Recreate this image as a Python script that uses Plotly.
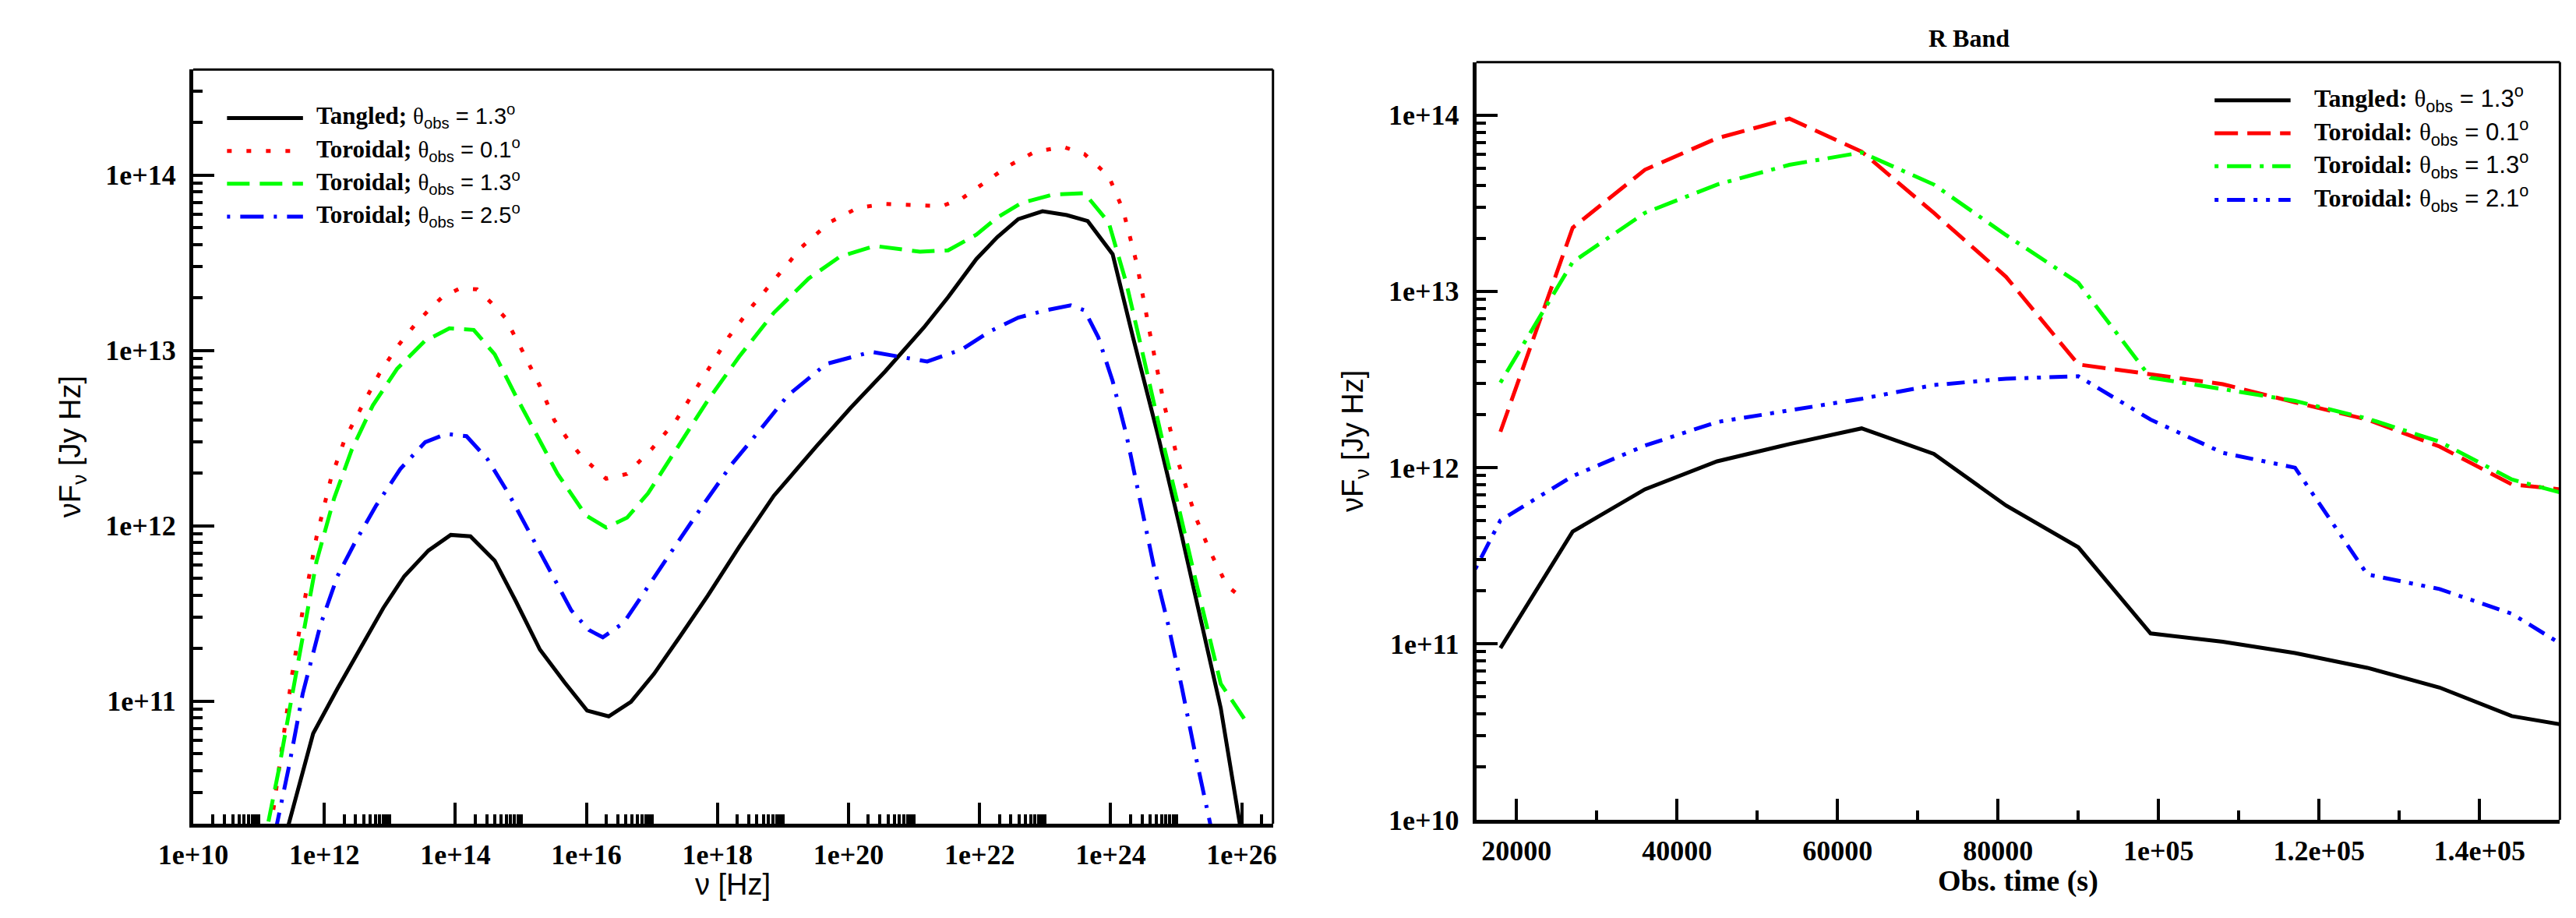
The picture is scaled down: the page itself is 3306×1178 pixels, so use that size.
import numpy as np
import plotly.graph_objects as go

W, H = 3306, 1178

# ---------------- Left panel: SED (log10 values) ----------------
sed_lognu_tangled = [11.40, 11.83, 12.20, 12.58, 12.90, 13.22, 13.59, 13.93, 14.23, 14.60, 14.92, 15.29,
                     15.67, 16.01, 16.34, 16.68, 17.03, 17.42, 17.85, 18.33, 18.86, 19.50, 20.03, 20.56,
                     21.15, 21.52, 21.95, 22.27, 22.59, 22.96, 23.33, 23.65, 24.03, 24.34, 24.72, 25.04,
                     25.36, 25.68, 26.05]
sed_logf_tangled = [10.22, 10.815, 11.071, 11.322, 11.531, 11.712, 11.859, 11.948, 11.940, 11.801, 11.572,
                    11.294, 11.105, 10.946, 10.913, 10.996, 11.155, 11.364, 11.600, 11.879, 12.171, 12.449,
                    12.672, 12.881, 13.131, 13.304, 13.521, 13.646, 13.749, 13.794, 13.772, 13.738, 13.549,
                    13.076, 12.519, 12.018, 11.489, 10.960, 10.12]

sed_lognu_tor01 = [11.10, 11.35, 11.51, 11.67, 11.88, 12.10, 12.31, 12.58, 12.84, 13.11, 13.38, 13.59,
                   13.80, 14.07, 14.33, 14.55, 14.76, 15.03, 15.29, 15.51, 15.72, 15.93, 16.30, 16.62,
                   16.99, 17.37, 17.80, 18.17, 18.54, 18.91, 19.29, 19.71, 20.14, 20.56, 20.99, 21.42,
                   21.74, 22.06, 22.43, 22.85, 23.28, 23.60, 23.97, 24.19, 24.40, 24.61, 24.82, 25.04,
                   25.30, 25.52, 25.78, 26.03]
sed_logf_tor01 = [10.05, 10.74, 11.155, 11.517, 11.934, 12.268, 12.491, 12.686, 12.867, 13.020, 13.145,
                  13.229, 13.304, 13.354, 13.349, 13.271, 13.187, 12.992, 12.797, 12.602, 12.491, 12.394,
                  12.268, 12.296, 12.435, 12.602, 12.853, 13.076, 13.257, 13.424, 13.591, 13.730, 13.813,
                  13.836, 13.827, 13.822, 13.869, 13.953, 14.050, 14.134, 14.161, 14.120, 13.994, 13.800,
                  13.493, 13.076, 12.686, 12.352, 12.046, 11.851, 11.656, 11.581]

sed_lognu_tor13 = [11.05, 11.30, 11.46, 11.67, 11.88, 12.15, 12.42, 12.74, 13.11, 13.53, 13.91, 14.28,
                   14.60, 14.92, 15.24, 15.56, 15.99, 16.30, 16.62, 16.94, 17.37, 17.85, 18.33, 18.86,
                   19.39, 19.87, 20.40, 21.09, 21.52, 21.95, 22.27, 22.64, 23.12, 23.60, 23.97, 24.24,
                   24.50, 24.77, 25.04, 25.30, 25.68, 26.08]
sed_logf_tor13 = [10.13, 10.598, 10.932, 11.377, 11.795, 12.157, 12.435, 12.686, 12.895, 13.053, 13.126,
                  13.117, 12.978, 12.742, 12.519, 12.296, 12.060, 11.990, 12.046, 12.185, 12.435, 12.714,
                  12.964, 13.215, 13.410, 13.535, 13.596, 13.563, 13.571, 13.660, 13.758, 13.841, 13.889,
                  13.897, 13.730, 13.382, 12.964, 12.519, 12.101, 11.684, 11.099, 10.877]

sed_lognu_tor25 = [11.20, 11.46, 11.67, 11.94, 12.20, 12.47, 12.79, 13.16, 13.54, 13.86, 14.17, 14.49,
                   14.81, 15.13, 15.45, 15.77, 16.04, 16.25, 16.57, 16.94, 17.37, 17.80, 18.22, 18.65,
                   19.07, 19.66, 20.35, 20.78, 21.20, 21.73, 22.16, 22.59, 23.01, 23.39, 23.60, 23.81,
                   24.03, 24.24, 24.45, 24.66, 24.88, 25.09, 25.30, 25.60]
sed_logf_tor25 = [10.16, 10.626, 11.042, 11.433, 11.712, 11.906, 12.115, 12.324, 12.477, 12.524, 12.511,
                  12.380, 12.185, 11.962, 11.739, 11.517, 11.405, 11.364, 11.447, 11.656, 11.893, 12.129,
                  12.352, 12.547, 12.742, 12.923, 12.992, 12.964, 12.937, 13.006, 13.109, 13.187, 13.229,
                  13.257, 13.229, 13.076, 12.825, 12.519, 12.129, 11.767, 11.433, 11.071, 10.682, 10.16]

# ---------------- Right panel: R band light curves ----------------
obs_time = [18000, 27000, 36000, 45000, 54000, 63000, 72000, 81000, 90000, 99000, 108000,
            117000, 126000, 135000, 144000, 153000]
obs_time_tor21 = [9000] + obs_time
r_logf_tangled = [10.975, 11.636, 11.876, 12.035, 12.133, 12.222, 12.077, 11.784, 11.547, 11.058,
                  11.011, 10.947, 10.863, 10.751, 10.589, 10.519]
r_logf_tor01 = [12.203, 13.361, 13.690, 13.869, 13.980, 13.793, 13.445, 13.082, 12.585, 12.529,
                12.473, 12.370, 12.272, 12.119, 11.904, 11.862]
r_logf_tor13 = [12.482, 13.166, 13.445, 13.606, 13.718, 13.788, 13.606, 13.319, 13.048, 12.510,
                12.445, 12.378, 12.278, 12.147, 11.932, 11.822]
r_logf_tor21 = [10.905, 11.700, 11.951, 12.124, 12.258, 12.323, 12.390, 12.468, 12.504, 12.518,
                12.272, 12.083, 11.999, 11.393, 11.310, 11.170, 10.918]

# ---------------- Tick labels ----------------
left_xtick_vals = [1e10, 1e12, 1e14, 1e16, 1e18, 1e20, 1e22, 1e24, 1e26]
left_xtick_text = ["1e+10", "1e+12", "1e+14", "1e+16", "1e+18", "1e+20", "1e+22", "1e+24", "1e+26"]
left_ytick_vals = [1e11, 1e12, 1e13, 1e14]
left_ytick_text = ["1e+11", "1e+12", "1e+13", "1e+14"]
right_xtick_vals = [20000, 40000, 60000, 80000, 100000, 120000, 140000]
right_xtick_text = ["20000", "40000", "60000", "80000", "1e+05", "1.2e+05", "1.4e+05"]
right_ytick_vals = [1e10, 1e11, 1e12, 1e13, 1e14]
right_ytick_text = ["1e+10", "1e+11", "1e+12", "1e+13", "1e+14"]

left_labels = ["Tangled;", "Toroidal;", "Toroidal;", "Toroidal;"]
left_angles = ["1.3", "0.1", "1.3", "2.5"]
right_labels = ["Tangled:", "Toroidal:", "Toroidal:", "Toroidal:"]
right_angles = ["1.3", "0.1", "1.3", "2.1"]

# minor tick positions
left_xminor = [k * 10.0 ** d for d in range(10, 27, 2) for k in range(2, 11) if k * 10.0 ** d <= 3.01e26]
log_minor = [k * 10.0 ** d for d in range(10, 15) for k in range(2, 10)]
left_yminor = [v for v in log_minor if 2e10 <= v <= 4.01e14]
right_yminor = [v for v in log_minor if v <= 2.01e14]
right_xminor = list(range(30000, 150001, 20000))

def px(x):
    return x / W

def py(y):
    return 1 - y / H

SERIF = "Liberation Serif"
SANS = "Liberation Sans"
LW = 5

left_styles = [("#000000", "solid"), ("#ff0000", "6px,19px"), ("#00ff00", "29px,13px"),
               ("#0000ff", "4px,13px,30px,13px")]
right_styles = [("#000000", "solid"), ("#ff0000", "30px,12px"), ("#00ff00", "5px,11px,31px,11px"),
                ("#0000ff", "5px,11px,23px,11px,5px,11px")]

fig = go.Figure()

left_series = [(sed_lognu_tangled, sed_logf_tangled), (sed_lognu_tor01, sed_logf_tor01),
               (sed_lognu_tor13, sed_logf_tor13), (sed_lognu_tor25, sed_logf_tor25)]
for (lx, ly), (col, dash), lab, ang in zip(left_series, left_styles, left_labels, left_angles):
    fig.add_trace(go.Scatter(x=10 ** np.array(lx), y=10 ** np.array(ly), mode="lines",
                             name=f"{lab} θobs = {ang}°",
                             line=dict(color=col, width=LW, dash=dash),
                             xaxis="x", yaxis="y", showlegend=False))

right_series = [(obs_time, r_logf_tangled), (obs_time, r_logf_tor01),
                (obs_time, r_logf_tor13), (obs_time_tor21, r_logf_tor21)]
for (tx, ty), (col, dash), lab, ang in zip(right_series, right_styles, right_labels, right_angles):
    fig.add_trace(go.Scatter(x=tx, y=10 ** np.array(ty), mode="lines",
                             name=f"{lab} θobs = {ang}°",
                             line=dict(color=col, width=LW, dash=dash),
                             xaxis="x2", yaxis="y2", showlegend=False))

tickfont = dict(family=SERIF, size=36, color="black", weight="bold")
common = dict(showline=True, linewidth=5, linecolor="black", ticks="inside", ticklen=27,
              tickwidth=4, tickcolor="black", showgrid=False, zeroline=False, tickfont=tickfont,
              tickmode="array")

def minor(vals):
    return dict(tickmode="array", tickvals=vals, ticks="inside", ticklen=12, tickwidth=4,
                tickcolor="black", showgrid=False)

fig.update_layout(
    width=W, height=H,
    margin=dict(l=0, r=0, t=0, b=0),
    paper_bgcolor="white", plot_bgcolor="white",
    showlegend=False,
    xaxis=dict(type="log", range=[10, 26.477], domain=[px(198), px(1605)], anchor="y",
               tickvals=left_xtick_vals, ticktext=left_xtick_text, minor=minor(left_xminor),
               ticklabelstandoff=4, **common),
    yaxis=dict(type="log", range=[10.301, 14.602], domain=[py(1068), py(82.7)], anchor="x",
               tickvals=left_ytick_vals, ticktext=left_ytick_text, minor=minor(left_yminor),
               ticklabelstandoff=10, **common),
    xaxis2=dict(type="linear", range=[15000, 150000], domain=[px(1870), px(3282)], anchor="y2",
                tickvals=right_xtick_vals, ticktext=right_xtick_text, minor=minor(right_xminor),
                ticklabelstandoff=4, **common),
    yaxis2=dict(type="log", range=[10, 14.301], domain=[py(1063), py(73)], anchor="x2",
                tickvals=right_ytick_vals, ticktext=right_ytick_text, minor=minor(right_yminor),
                ticklabelstandoff=10, **common),
)

shapes = []
# thinner top / right frame lines
for xr, yr in (("x", "y"), ("x2", "y2")):
    shapes.append(dict(type="line", xref=f"{xr} domain", yref=f"{yr} domain", x0=0, x1=1, y0=1, y1=1,
                       line=dict(color="black", width=3), layer="above"))
    shapes.append(dict(type="line", xref=f"{xr} domain", yref=f"{yr} domain", x0=1, x1=1, y0=0, y1=1,
                       line=dict(color="black", width=3), layer="above"))

annotations = []

def legend_text(name, ang, serif_size):
    return (f'<span style="font-family:{SERIF};font-size:{serif_size}px"><b>{name}</b></span> '
            f'<span style="font-family:{SERIF}">θ</span><sub>obs</sub> = {ang}<sup>o</sup>')

left_rows = [146, 189, 232, 275]
for row, (col, dash), lab, ang in zip(left_rows, left_styles, left_labels, left_angles):
    shapes.append(dict(type="line", xref="paper", yref="paper", x0=px(242), x1=px(341),
                       y0=py(row), y1=py(row), line=dict(color=col, width=LW, dash=dash)))
    annotations.append(dict(xref="paper", yref="paper", x=px(356), y=py(row - 2), xanchor="left",
                            yanchor="middle", showarrow=False, text=legend_text(lab, ang, 31),
                            font=dict(family=SANS, size=29, color="black")))

right_rows = [123, 166, 209, 253]
for row, (col, dash), lab, ang in zip(right_rows, right_styles, right_labels, right_angles):
    shapes.append(dict(type="line", xref="paper", yref="paper", x0=px(2832), x1=px(2931),
                       y0=py(row), y1=py(row), line=dict(color=col, width=LW, dash=dash)))
    annotations.append(dict(xref="paper", yref="paper", x=px(2960), y=py(row - 2), xanchor="left",
                            yanchor="middle", showarrow=False, text=legend_text(lab, ang, 32),
                            font=dict(family=SANS, size=31, color="black")))

# axis titles and panel title
annotations += [
    dict(xref="paper", yref="paper", x=px(901), y=py(1147), xanchor="center", yanchor="middle",
         showarrow=False, text="ν [Hz]", font=dict(family=SANS, size=38, color="black")),
    dict(xref="paper", yref="paper", x=px(40), y=py(575), xanchor="center", yanchor="middle",
         showarrow=False, textangle=-90, text="νF<sub>ν</sub> [Jy Hz]",
         font=dict(family=SANS, size=38, color="black")),
    dict(xref="paper", yref="paper", x=px(2576), y=py(1143), xanchor="center", yanchor="middle",
         showarrow=False, text="<b>Obs. time (s)</b>", font=dict(family=SERIF, size=38, color="black")),
    dict(xref="paper", yref="paper", x=px(1712), y=py(568), xanchor="center", yanchor="middle",
         showarrow=False, textangle=-90, text="νF<sub>ν</sub> [Jy Hz]",
         font=dict(family=SANS, size=38, color="black")),
    dict(xref="paper", yref="paper", x=px(2512), y=py(42), xanchor="center", yanchor="middle",
         showarrow=False, text="<b>R Band</b>", font=dict(family=SERIF, size=32, color="black")),
]

fig.update_layout(shapes=shapes, annotations=annotations)
fig.write_html("out.html")
